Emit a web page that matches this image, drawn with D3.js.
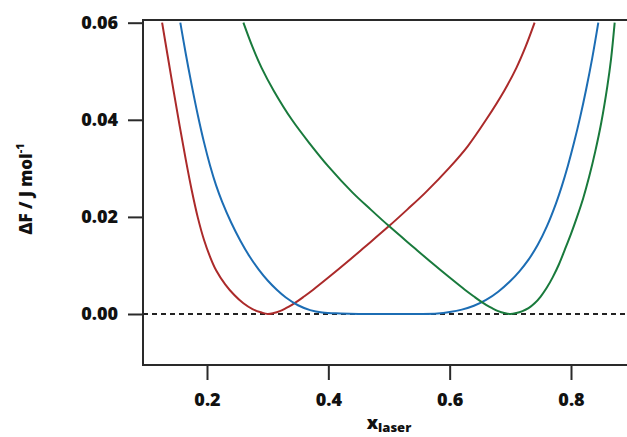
<!DOCTYPE html>
<html>
<head>
<meta charset="utf-8">
<script src="https://cdn.jsdelivr.net/npm/d3@7"></script>
<style>
  html, body { margin: 0; padding: 0; background: #fff; }
  svg { display: block; }
  text { font-family: "Open Sans", "DejaVu Sans", sans-serif; font-weight: 800; fill: #111; }
</style>
</head>
<body>
<svg id="chart" width="627" height="437"></svg>
<script>
// ---- data ----
const redX   = [0.126,0.135,0.145,0.155,0.165,0.175,0.185,0.195,0.205,0.215,0.230,0.245,0.260,0.275,0.290,0.300,0.310,0.320,0.330,0.340,0.350,0.360,0.375,0.400,0.430,0.460,0.500,0.530,0.560,0.600,0.630,0.660,0.690,0.710,0.725,0.740];
const redY   = [0.0600,0.0533,0.0459,0.0387,0.0318,0.0254,0.0198,0.0153,0.0118,0.0090,0.0061,0.0039,0.0022,0.0010,0.0003,0.0000,0.0002,0.0006,0.0012,0.0019,0.0027,0.0036,0.0050,0.0075,0.0106,0.0138,0.0181,0.0215,0.0250,0.0302,0.0346,0.0400,0.0460,0.0507,0.0550,0.0600];

const blueX  = [0.156,0.165,0.175,0.185,0.195,0.205,0.215,0.225,0.240,0.255,0.270,0.285,0.300,0.315,0.330,0.350,0.370,0.390,0.420,0.450,0.500,0.550,0.580,0.600,0.620,0.640,0.660,0.680,0.700,0.715,0.730,0.745,0.760,0.775,0.785,0.795,0.805,0.815,0.825,0.835,0.845];
const blueY  = [0.0600,0.0536,0.0470,0.0409,0.0354,0.0306,0.0265,0.0231,0.0188,0.0151,0.0119,0.0092,0.0069,0.0050,0.0034,0.0018,0.0008,0.0003,0.0001,0.0000,0.0000,0.0000,0.0001,0.0004,0.0009,0.0017,0.0029,0.0046,0.0068,0.0088,0.0112,0.0142,0.0180,0.0227,0.0264,0.0306,0.0353,0.0405,0.0463,0.0527,0.0600];

const greenX = [0.260,0.275,0.290,0.310,0.340,0.370,0.400,0.440,0.470,0.500,0.540,0.570,0.600,0.625,0.640,0.650,0.660,0.670,0.680,0.690,0.700,0.710,0.720,0.730,0.740,0.750,0.760,0.770,0.780,0.790,0.800,0.810,0.820,0.830,0.840,0.850,0.860,0.866,0.872];
const greenY = [0.0600,0.0550,0.0507,0.0460,0.0400,0.0350,0.0304,0.0250,0.0215,0.0181,0.0138,0.0106,0.0075,0.0050,0.0036,0.0027,0.0019,0.0012,0.0006,0.0002,0.0000,0.0002,0.0006,0.0012,0.0022,0.0036,0.0054,0.0076,0.0102,0.0133,0.0165,0.0200,0.0238,0.0283,0.0335,0.0395,0.0470,0.0525,0.0600];

const xTicks = [0.2, 0.4, 0.6, 0.8];
const yTicks = [0.00, 0.02, 0.04, 0.06];
const seriesNames = ["red", "blue", "green"];
const seriesColors = ["#ab2a2a", "#1c6db4", "#197a3c"];

// ---- layout ----
const svg = d3.select("#chart");
const mLeft = 143, mTop = 20, mBottom = 365, mRight = 627;

const x = d3.scaleLinear().domain([0.2, 0.8]).range([207, 571]);
const y = d3.scaleLinear().domain([0, 0.06]).range([314, 22.7]);

// zero reference line
svg.append("line")
  .attr("x1", mLeft).attr("x2", mRight)
  .attr("y1", y(0)).attr("y2", y(0))
  .attr("stroke", "#222").attr("stroke-width", 2)
  .attr("stroke-dasharray", "5,4");

// curves
const series = [
  { xs: redX, ys: redY },
  { xs: blueX, ys: blueY },
  { xs: greenX, ys: greenY }
];
const line = d3.line()
  .x(d => x(d[0])).y(d => y(d[1]))
  .curve(d3.curveCatmullRom.alpha(0.5));

series.forEach((s, i) => {
  const pts = s.xs.map((v, j) => [v, s.ys[j]]);
  svg.append("path")
    .datum(pts)
    .attr("d", line)
    .attr("fill", "none")
    .attr("stroke", seriesColors[i])
    .attr("stroke-width", 2)
    .attr("stroke-linejoin", "round");
});

// frame (left, top, bottom)
svg.append("path")
  .attr("d", `M${mRight},${mTop}H${mLeft}V${mBottom}H${mRight}`)
  .attr("fill", "none").attr("stroke", "#2a2a2a").attr("stroke-width", 2);

// axes
const yAxis = d3.axisLeft(y).tickValues(yTicks).tickFormat(d3.format(".2f"))
  .tickSize(15).tickPadding(10);
const gy = svg.append("g").attr("transform", `translate(${mLeft},0)`).call(yAxis);
gy.select(".domain").remove();
gy.selectAll(".tick line").attr("stroke", "#2a2a2a").attr("stroke-width", 2);
gy.selectAll(".tick text").attr("font-size", 18).attr("font-family", null).attr("fill", "#111");

const xAxis = d3.axisBottom(x).tickValues(xTicks).tickFormat(d3.format(".1f"))
  .tickSize(15).tickPadding(10);
const gx = svg.append("g").attr("transform", `translate(0,${mBottom})`).call(xAxis);
gx.select(".domain").remove();
gx.selectAll(".tick line").attr("stroke", "#2a2a2a").attr("stroke-width", 2);
gx.selectAll(".tick text").attr("font-size", 18).attr("font-family", null).attr("fill", "#111")
  .attr("dy", null).attr("y", 41);

// x axis title
const xt = svg.append("text").attr("x", 389).attr("y", 429).attr("text-anchor", "middle");
xt.append("tspan").attr("font-size", 18).text("x");
xt.append("tspan").attr("font-size", 13).attr("dy", 3).text("laser");

// y axis title
const yt = svg.append("text")
  .attr("transform", "translate(32,189) rotate(-90)")
  .attr("text-anchor", "middle")
  .attr("font-size", 17);
yt.append("tspan").text("ΔF / J mol");
yt.append("tspan").attr("font-size", 11).attr("dy", -8).text("-1");
</script>
</body>
</html>
